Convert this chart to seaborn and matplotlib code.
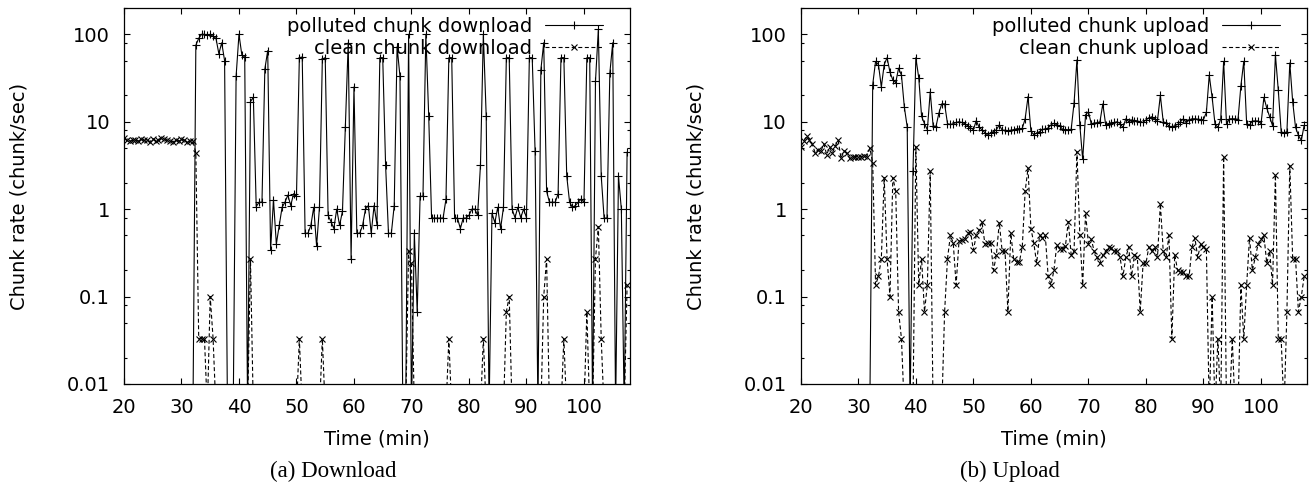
import numpy as np
import pandas as pd
import matplotlib
matplotlib.use("Agg")
import matplotlib.pyplot as plt
from matplotlib.ticker import LogLocator, NullFormatter
import seaborn as sns

# one sample every 30 s, from minute 20 to 107.5
time_min = np.arange(20, 108, 0.5)

# chunk rates (chunk/sec), 0 = nothing received
polluted_down = [
    0, 0, 0, 0, 0, 0, 0, 0, 0, 0,                                  # 20
    0, 0, 0, 0, 0, 0, 0, 0, 0, 0,                                  # 25
    0, 0, 0, 0, 0, 75, 90, 100, 100, 97,                           # 30
    100, 95, 90, 60, 80, 50, 0, 0, 0, 33,                          # 35
    100, 58, 55, 0, 17, 19, 1.07, 1.2, 1.2, 40,                    # 40
    65, 0.34, 1.28, 0.4, 0.65, 1.05, 1.2, 1.45, 1.1, 1.5,          # 45
    1.4, 54, 55, 0.53, 0.53, 0.65, 1.05, 0.38, 1.05, 52,           # 50
    54, 0.85, 0.72, 0.6, 1.0, 0.65, 0.95, 8.8, 80, 0.27,           # 55
    25, 0.53, 0.53, 0.65, 1.0, 1.1, 0.53, 1.1, 0.66, 54,           # 60
    54, 3.2, 0.53, 0.53, 1.1, 72, 33, 0, 0, 100,                   # 65
    0, 0.53, 0.066, 1.4, 1.4, 100, 11.5, 0.79, 0.79, 0.79,         # 70
    0.79, 0.79, 1.3, 54, 54, 0.79, 0.79, 0.6, 0.79, 0.79,          # 75
    0.85, 1.0, 1.0, 0.85, 3.2, 100, 11.5, 0, 0.9, 0.7,             # 80
    1.05, 0.6, 1.05, 54, 54, 1.0, 0.8, 1.05, 0.8, 1.0,             # 85
    0.8, 54, 54, 4.6, 0, 39, 80, 1.6, 1.2, 1.2,                    # 90
    1.2, 1.5, 54, 54, 2.4, 1.2, 1.05, 1.1, 1.2, 1.3,               # 95
    1.2, 54, 54, 0, 29, 114, 2.4, 0.79, 0.79, 36,                  # 100
    80, 0, 2.4, 1.0, 0, 4.5,                                       # 105
]
clean_down = [
    6.5, 6.2, 6.0, 6.1, 6.2, 6.0, 6.3, 6.1, 6.2, 5.9,              # 20
    6.4, 6.0, 6.2, 6.5, 6.3, 6.1, 6.0, 5.9, 6.2, 6.0,              # 25
    6.3, 6.1, 5.8, 6.0, 6.0, 4.4, 0.033, 0.033, 0.033, 0,          # 30
    0.1, 0.033, 0, 0, 0, 0, 0, 0, 0, 0,                            # 35
    0, 0, 0, 0, 0.27, 0, 0, 0, 0, 0,                               # 40
    0, 0, 0, 0, 0, 0, 0, 0, 0, 0,                                  # 45
    0, 0.033, 0, 0, 0, 0, 0, 0, 0, 0.033,                          # 50
    0, 0, 0, 0, 0, 0, 0, 0, 0, 0,                                  # 55
    0, 0, 0, 0, 0, 0, 0, 0, 0, 0,                                  # 60
    0, 0, 0, 0, 0, 0, 0, 0, 0, 0.33,                               # 65
    0.24, 0, 0, 0, 0, 0, 0, 0, 0, 0,                               # 70
    0, 0, 0, 0.033, 0, 0, 0, 0, 0, 0,                              # 75
    0, 0, 0, 0, 0, 0.033, 0, 0, 0, 0,                              # 80
    0, 0, 0, 0.067, 0.1, 0, 0, 0, 0, 0,                            # 85
    0, 0, 0, 0, 0, 0, 0.1, 0.27, 0, 0,                             # 90
    0, 0, 0, 0.033, 0, 0, 0, 0, 0, 0,                              # 95
    0, 0.067, 0, 0, 0.27, 0.63, 0.033, 0, 0, 0,                    # 100
    0, 0, 0, 0, 0, 0.135,                                          # 105
]
polluted_up = [
    0, 0, 0, 0, 0, 0, 0, 0, 0, 0,                                  # 20
    0, 0, 0, 0, 0, 0, 0, 0, 0, 0,                                  # 25
    0, 0, 0, 0, 0, 26.5, 49, 45, 25, 45,                           # 30
    54, 37, 30, 28, 41, 34, 14.7, 8.7, 0, 2.7,                     # 35
    54, 32, 11.5, 9.5, 8.1, 22, 9.0, 8.8, 12.5, 16,                # 40
    16, 9.5, 9.3, 9.5, 9.8, 10, 9.8, 9.5, 9.0, 8.5,                # 45
    8.1, 10.3, 8.6, 8.1, 7.5, 7.0, 7.5, 7.7, 8.1, 9.2,             # 50
    8.0, 8.0, 7.9, 8.0, 8.1, 8.3, 8.3, 8.4, 10.8, 19.4,            # 55
    7.8, 7.1, 7.4, 7.7, 8.2, 8.2, 8.5, 9.2, 9.6, 9.2,              # 60
    9.0, 8.2, 8.0, 8.0, 8.2, 16.3, 51, 9.2, 3.7, 12,               # 65
    13, 9.4, 9.7, 9.7, 10, 16, 9.2, 9.5, 9.7, 9.8,                 # 70
    10, 9.5, 8.6, 10.8, 10, 10.5, 10.3, 10.2, 10.0, 9.8,           # 75
    10.5, 11, 11.4, 10.8, 10.3, 20, 10, 9.7, 8.9, 8.7,             # 80
    9.0, 9.3, 10, 10.8, 9.7, 10.5, 10.8, 10.8, 10.7, 10.6,         # 85
    10.6, 12.8, 34, 19, 9.4, 8.6, 10.8, 49, 9.4, 10.8,             # 90
    10.8, 10.8, 10.6, 25.8, 49, 9.5, 9.2, 10.2, 10.2, 10.2,        # 95
    9.5, 19, 14.3, 11.4, 9.0, 58, 23, 7.7, 7.4, 7.7,               # 100
    47, 17, 8.6, 7.0, 6.1, 9.1,                                    # 105
]
clean_up = [
    5.2, 6.0, 6.8, 6.2, 5.5, 4.4, 4.8, 4.6, 5.6, 4.2,              # 20
    5.1, 4.4, 5.3, 6.1, 3.8, 4.6, 4.4, 3.8, 3.9, 4.0,              # 25
    3.9, 4.0, 4.1, 4.0, 5.0, 3.4, 0.136, 0.17, 0.27, 2.3,          # 30
    0.27, 0.1, 2.3, 1.6, 0.067, 0.033, 0, 0, 0, 0,                 # 35
    5.2, 0.136, 0.27, 0.067, 0.136, 2.7, 0, 0, 0, 0,               # 40
    0.067, 0.27, 0.5, 0.41, 0.136, 0.43, 0.44, 0.45, 0.53, 0.55,   # 45
    0.34, 0.5, 0.58, 0.72, 0.4, 0.41, 0.41, 0.2, 0.3, 0.7,         # 50
    0.33, 0.33, 0.067, 0.53, 0.27, 0.25, 0.25, 0.37, 1.6, 2.95,    # 55
    0.6, 0.41, 0.24, 0.5, 0.47, 0.5, 0.17, 0.136, 0.2, 0.39,       # 60
    0.35, 0.35, 0.38, 0.72, 0.3, 0.33, 4.56, 0.51, 0.136, 0.9,     # 65
    0.4, 0.45, 0.33, 0.28, 0.24, 0.3, 0.33, 0.37, 0.36, 0.33,      # 70
    0.33, 0.28, 0.17, 0.28, 0.37, 0.17, 0.3, 0.28, 0.067, 0.24,    # 75
    0.24, 0.37, 0.33, 0.37, 0.28, 1.15, 0.33, 0.28, 0.5, 0.033,    # 80
    0.3, 0.2, 0.19, 0.19, 0.17, 0.17, 0.37, 0.47, 0.28, 0.4,       # 85
    0.37, 0.35, 0, 0.1, 0, 0.033, 0, 4.0, 0, 0,                    # 90
    0.033, 0, 0, 0.136, 0.033, 0.136, 0.47, 0.2, 0.28, 0.4,        # 95
    0.45, 0.5, 0.24, 0.33, 0.136, 2.47, 0.033, 0.033, 0, 0.067,    # 100
    3.15, 0.27, 0.27, 0.067, 0.1, 0.17,                            # 105
]

sns.set_theme(style="ticks", rc={
    "axes.edgecolor": "black", "axes.labelcolor": "black",
    "xtick.color": "black", "ytick.color": "black", "text.color": "black",
})
plt.rcParams["font.family"] = ["DejaVu Sans"]

FS = 14
FLOOR = 0.005  # zero rates: draw them under the axis so the line drops to the bottom


def draw_panel(ax, polluted, clean, label_p, label_c):
    df = pd.DataFrame({
        "t": time_min,
        "polluted": np.where(np.array(polluted) > 0, polluted, FLOOR),
        "clean": np.where(np.array(clean) > 0, clean, FLOOR),
    })
    sns.lineplot(data=df, x="t", y="polluted", ax=ax, color="black", lw=0.8,
                 marker="+", ms=6, mew=0.8, mec="black", label=label_p)
    sns.lineplot(data=df, x="t", y="clean", ax=ax, color="black", lw=0.8,
                 linestyle=(0, (3.6, 2.3)), marker="x", ms=4.8, mew=0.8,
                 mec="black", label=label_c)

    ax.set_yscale("log")
    ax.set_xlim(20, 108)
    ax.set_ylim(0.01, 200)
    ax.set_xticks(range(20, 101, 10))
    ax.set_yticks([0.01, 0.1, 1, 10, 100], ["0.01", "0.1", "1", "10", "100"])
    ax.yaxis.set_minor_locator(LogLocator(base=10, subs=[2, 5, 8]))
    ax.yaxis.set_minor_formatter(NullFormatter())
    ax.tick_params(which="both", direction="in", top=True, right=True,
                   width=0.8, labelsize=FS, pad=10)
    ax.tick_params(which="major", length=4.5)
    ax.tick_params(which="minor", length=2.2)
    for s in ax.spines.values():
        s.set_linewidth(0.9)

    ax.set_xlabel("Time (min)", fontsize=FS)
    ax.set_ylabel("Chunk rate (chunk/sec)", fontsize=FS)
    ax.xaxis.set_label_coords(0.5, -0.12)
    ax.yaxis.set_label_coords(-0.188, 0.5)

    ax.legend(loc="upper right", bbox_to_anchor=(0.947, 0.977), frameon=False,
              markerfirst=False, fontsize=FS, handlelength=3.0,
              handletextpad=0.65, labelspacing=0.15, borderpad=0,
              borderaxespad=0, numpoints=1)


fig = plt.figure(figsize=(13.16, 4.86), dpi=100)
ax1 = fig.add_axes([0.0942, 0.2099, 0.3845, 0.7737])
ax2 = fig.add_axes([0.6085, 0.2099, 0.3847, 0.7737])

draw_panel(ax1, polluted_down, clean_down,
           "polluted chunk download", "clean chunk download")
draw_panel(ax2, polluted_up, clean_up,
           "polluted chunk upload", "clean chunk upload")

fig.text(0.253, 0.029, "(a) Download", family="Liberation Serif",
         fontsize=16.5, ha="center", va="center")
fig.text(0.7675, 0.029, "(b) Upload", family="Liberation Serif",
         fontsize=16.5, ha="center", va="center")

fig.savefig("out.png", dpi=100)
